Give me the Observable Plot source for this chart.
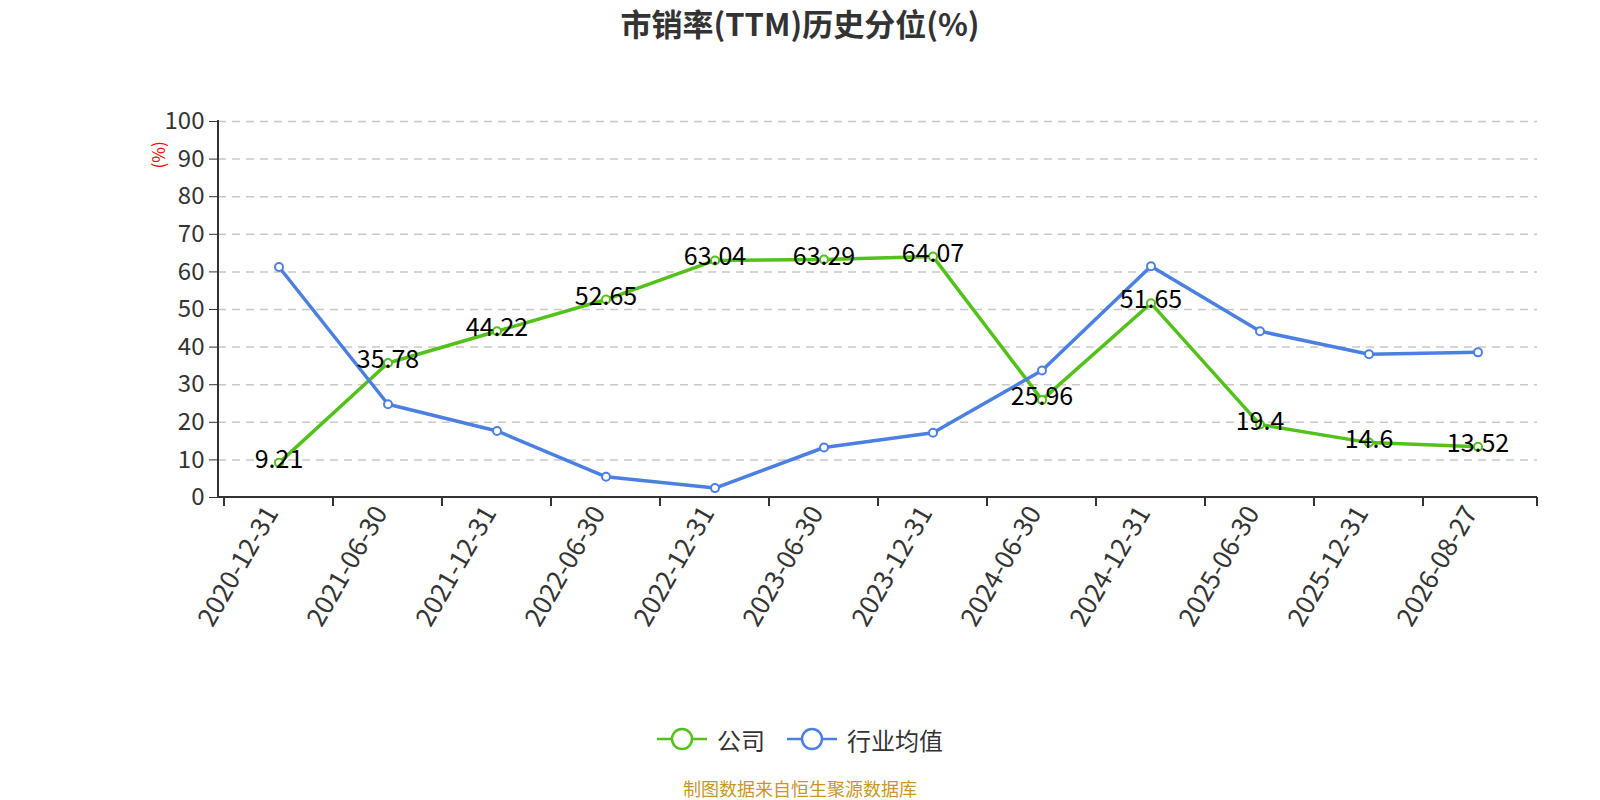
<!DOCTYPE html>
<html><head><meta charset="utf-8">
<script src="https://cdn.jsdelivr.net/npm/d3@7"></script>
<script src="https://cdn.jsdelivr.net/npm/@observablehq/plot@0.6"></script>
<style>
body{margin:0;background:#fff;font-family:"Noto Sans CJK SC","Noto Sans",sans-serif;}
#wrap{width:1600px;}
#title{height:50px;line-height:46px;text-align:center;font-size:31px;font-weight:bold;color:#333;}
#legend{margin-top:34px;height:30px;display:flex;justify-content:center;align-items:center;gap:22px;font-size:24px;color:#333;}
.item{display:flex;align-items:center;gap:10px;}
#caption{margin-top:22px;height:24px;line-height:24px;text-align:center;font-size:18px;color:#c8962c;}
</style></head>
<body><div id="wrap"><div id="title">市销率(TTM)历史分位(%)</div><div id="chart"></div><div id="legend"></div><div id="caption">制图数据来自恒生聚源数据库</div></div>
<script>
const dates = ["2020-12-31","2021-06-30","2021-12-31","2022-06-30","2022-12-31","2023-06-30","2023-12-31","2024-06-30","2024-12-31","2025-06-30","2025-12-31","2026-08-27"];
const company = [9.21, 35.78, 44.22, 52.65, 63.04, 63.29, 64.07, 25.96, 51.65, 19.4, 14.6, 13.52];
const industry = [61.3, 24.8, 17.7, 5.5, 2.5, 13.3, 17.2, 33.8, 61.5, 44.2, 38.1, 38.6];
const seriesNames = ["公司", "行业均值"];
const colors = ["#52c21a", "#4b7fe2"];
const yTicks = [0, 10, 20, 30, 40, 50, 60, 70, 80, 90, 100];
const yLabel = "(%)";

const rowsC = dates.map((d, i) => ({date: d, value: company[i]}));
const rowsI = dates.map((d, i) => ({date: d, value: industry[i]}));

function axes(index, scales, values, dim) {
  const x = scales.x, y = scales.y;
  const g = d3.create("svg:g");
  const x0 = dim.marginLeft, x1 = dim.width - dim.marginRight;
  const yb = y(0), yt = y(100);
  g.append("line").attr("x1", x0).attr("x2", x0).attr("y1", yt - 1).attr("y2", yb)
    .attr("stroke", "#333").attr("stroke-width", 2);
  g.append("line").attr("x1", x0 - 1).attr("x2", x1).attr("y1", yb).attr("y2", yb)
    .attr("stroke", "#333").attr("stroke-width", 2);
  const bw = (x1 - x0) / dates.length;
  const bounds = dates.map((d, i) => (x.bandwidth ? x(d) : x0 + i * bw)).concat([x1]);
  bounds.forEach(b => g.append("line").attr("x1", b).attr("x2", b).attr("y1", yb).attr("y2", yb + 9)
    .attr("stroke", "#333").attr("stroke-width", 2));
  g.append("text").text(yLabel)
    .attr("transform", `translate(${x0 - 61},${y(91)}) rotate(-90)`)
    .attr("text-anchor", "middle").attr("dominant-baseline", "central")
    .attr("fill", "red").attr("font-size", 17);
  return g.node();
}

const chart = Plot.plot({
  width: 1600,
  height: 640,
  marginLeft: 218,
  marginRight: 63,
  marginTop: 71,
  marginBottom: 193,
  style: {fontFamily: "'Noto Sans CJK SC','Noto Sans',sans-serif", fontSize: "24px", background: "white"},
  x: {type: "band", domain: dates, padding: 0, axis: null},
  y: {domain: [0, 100], axis: null},
  marks: [
    Plot.gridY(yTicks.filter(t => t > 0), {stroke: "#c8c8c8", strokeOpacity: 1, strokeDasharray: "8,6", strokeWidth: 1.5}),
    Plot.axisY(yTicks, {tickSize: 9, tickPadding: 5, fontSize: 24, color: "#333", label: null, tickFormat: d => String(d)}),
    Plot.axisX({tickSize: 0, tickPadding: 11, tickRotate: -60, fontSize: 26, color: "#333", label: null, dx: -7}),
    axes,
    Plot.line(rowsC, {x: "date", y: "value", stroke: colors[0], strokeWidth: 3.5}),
    Plot.line(rowsI, {x: "date", y: "value", stroke: colors[1], strokeWidth: 3.5}),
    Plot.dot(rowsC, {x: "date", y: "value", r: 4, fill: "white", stroke: colors[0], strokeWidth: 2}),
    Plot.dot(rowsI, {x: "date", y: "value", r: 4, fill: "white", stroke: colors[1], strokeWidth: 2}),
    Plot.text(rowsC, {x: "date", y: "value", text: d => String(d.value), fontSize: 25, fill: "black", dy: -3})
  ]
});
document.getElementById("chart").appendChild(chart);

const legend = document.getElementById("legend");
seriesNames.forEach((name, i) => {
  const item = document.createElement("div");
  item.className = "item";
  item.innerHTML = `<svg width="50" height="26"><line x1="0" x2="50" y1="13" y2="13" stroke="${colors[i]}" stroke-width="2.5"/><circle cx="25" cy="13" r="10" fill="white" stroke="${colors[i]}" stroke-width="2.5"/></svg><span>${name}</span>`;
  legend.appendChild(item);
});
</script>
</body></html>
